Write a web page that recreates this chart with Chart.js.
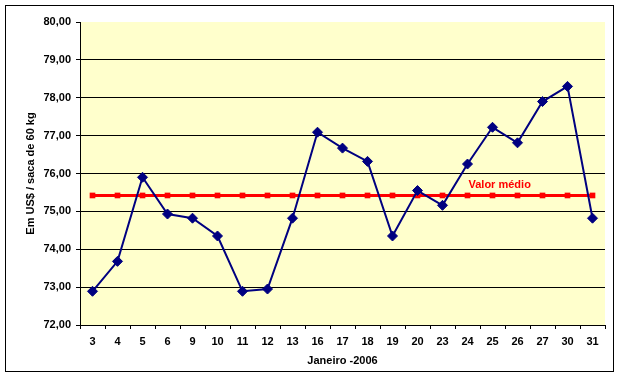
<!DOCTYPE html>
<html lang="pt">
<head>
<meta charset="UTF-8">
<title>Preço - Janeiro 2006</title>
<style>
    body { margin: 0; padding: 0; background: #ffffff; }
    #chart-container { width: 621px; height: 378px; position: relative; }
</style>
<script src="https://cdn.jsdelivr.net/npm/chart.js"></script>
</head>
<body>
<div id="chart-container">
    <canvas id="precoChart"></canvas>
</div>
<script>
    // dias úteis de janeiro 2006
    const dias = ['3', '4', '5', '6', '9', '10', '11', '12', '13', '16', '17', '18', '19', '20', '23', '24', '25', '26', '27', '30', '31'];
    // US$ / saca de 60 kg
    const precos = [72.89, 73.68, 75.90, 74.93, 74.82, 74.35, 72.89, 72.95, 74.82, 77.09, 76.67, 76.32, 74.35, 75.55, 75.16, 76.25, 77.22, 76.81, 77.90, 78.30, 74.82];
    const media = [75.42, 75.42, 75.42, 75.42, 75.42, 75.42, 75.42, 75.42, 75.42, 75.42, 75.42, 75.42, 75.42, 75.42, 75.42, 75.42, 75.42, 75.42, 75.42, 75.42, 75.42];
    const yTicks = [72, 73, 74, 75, 76, 77, 78, 79, 80];

    const fonte = "'Liberation Sans', Arial, sans-serif";

    // fundo, moldura e rótulo "Valor médio"
    const molduraPlugin = {
        id: 'moldura',
        beforeDraw(chart) {
            const ctx = chart.ctx;
            const a = chart.chartArea;
            ctx.save();
            ctx.fillStyle = '#ffffff';
            ctx.fillRect(0, 0, chart.width, chart.height);
            ctx.strokeStyle = '#000000';
            ctx.lineWidth = 1;
            ctx.strokeRect(5.5, 5.5, 608, 366);
            ctx.fillStyle = '#FFFFCC';
            ctx.fillRect(a.left, a.top, a.right - a.left, a.bottom - a.top);
            ctx.restore();
        },
        afterDatasetsDraw(chart) {
            const ctx = chart.ctx;
            const x = chart.scales.x.getPixelForValue(15) + 1;
            const y = chart.scales.y.getPixelForValue(media[0]) - 10;
            ctx.save();
            ctx.fillStyle = '#FF0000';
            ctx.font = 'bold 11px ' + fonte;
            ctx.textAlign = 'left';
            ctx.textBaseline = 'middle';
            ctx.fillText('Valor médio', x, y);
            ctx.restore();
        }
    };

    function createChart() {
        const ctx = document.getElementById('precoChart').getContext('2d');
        new Chart(ctx, {
            type: 'line',
            data: {
                labels: dias,
                datasets: [
                    {
                        label: 'Preço',
                        data: precos,
                        borderColor: '#000080',
                        backgroundColor: '#000080',
                        borderWidth: 2,
                        pointStyle: 'rectRot',
                        pointRadius: 5,
                        pointBorderWidth: 1,
                        tension: 0
                    },
                    {
                        label: 'Valor médio',
                        data: media,
                        borderColor: '#FF0000',
                        backgroundColor: '#FF0000',
                        borderWidth: 3,
                        pointStyle: 'rect',
                        pointRadius: 4,
                        pointBorderWidth: 0,
                        tension: 0
                    }
                ]
            },
            options: {
                responsive: true,
                maintainAspectRatio: false,
                animation: false,
                layout: {
                    padding: { top: 22, right: 16, left: 0, bottom: 0 }
                },
                plugins: {
                    legend: { display: false },
                    tooltip: { enabled: false }
                },
                scales: {
                    x: {
                        offset: true,
                        grid: {
                            offset: true,
                            drawOnChartArea: false,
                            drawTicks: true,
                            tickLength: 4,
                            tickColor: '#000000'
                        },
                        border: { color: '#000000', width: 1 },
                        ticks: {
                            color: '#000000',
                            padding: 6,
                            maxRotation: 0,
                            autoSkip: false,
                            font: { family: fonte, size: 11, weight: 'bold' }
                        },
                        title: {
                            display: true,
                            text: 'Janeiro -2006',
                            color: '#000000',
                            padding: { top: 4, bottom: 10 },
                            font: { family: fonte, size: 11, weight: 'bold' }
                        },
                        afterFit(scale) { scale.height = 53; }
                    },
                    y: {
                        min: yTicks[0],
                        max: yTicks[yTicks.length - 1],
                        afterBuildTicks(scale) {
                            scale.ticks = yTicks.map(v => ({ value: v }));
                        },
                        grid: {
                            color: (c) => (c.tick && (c.tick.value === 80 || c.tick.value === 72)) ? 'rgba(0,0,0,0)' : '#000000',
                            tickColor: '#000000',
                            tickLength: 4,
                            lineWidth: 1
                        },
                        border: { color: '#000000', width: 1 },
                        ticks: {
                            color: '#000000',
                            padding: 5,
                            font: { family: fonte, size: 11, weight: 'bold' },
                            callback: (v) => Number(v).toFixed(2).replace('.', ',')
                        },
                        title: {
                            display: true,
                            text: 'Em US$ / saca de 60 kg',
                            color: '#000000',
                            padding: { top: 24, bottom: 0 },
                            font: { family: fonte, size: 11, weight: 'bold' }
                        },
                        afterFit(scale) { scale.width = 80; }
                    }
                }
            },
            plugins: [molduraPlugin]
        });
    }

    window.onload = function () {
        createChart();
    };
</script>
</body>
</html>
